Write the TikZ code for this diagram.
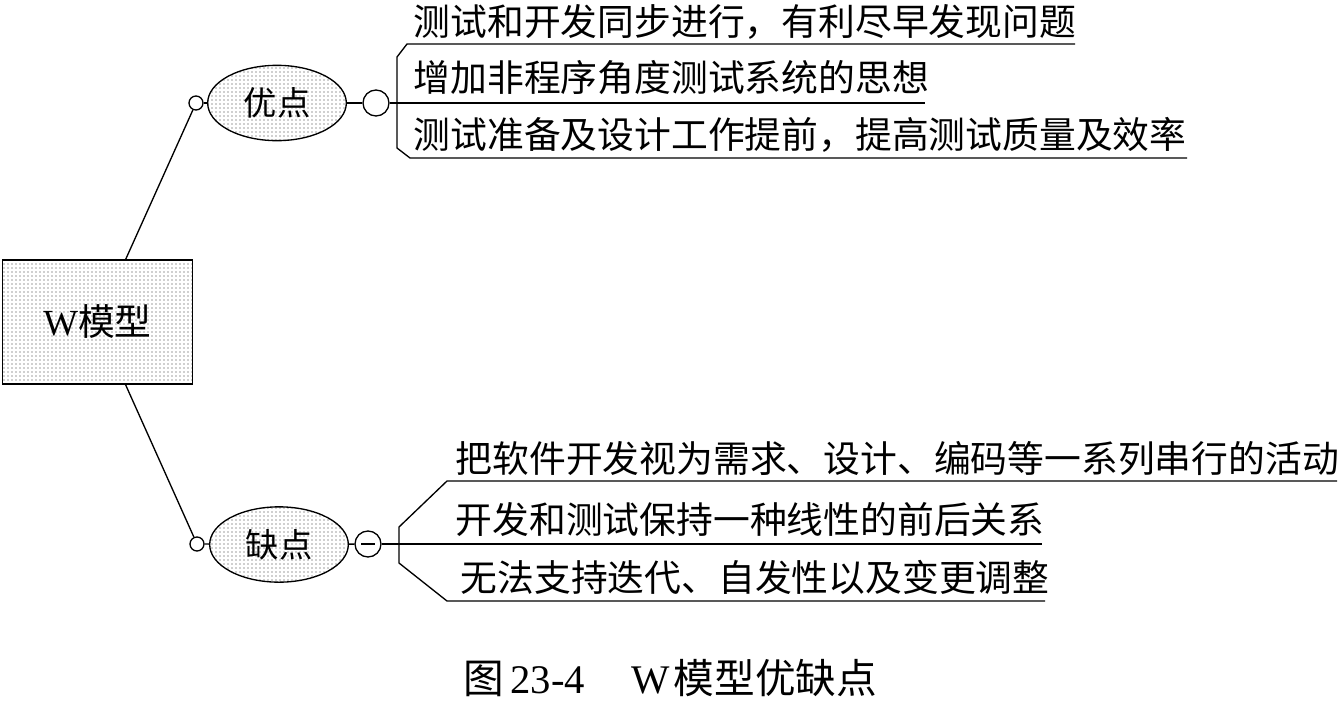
\documentclass[tikz,border=0pt]{standalone}
\usepackage{fontspec}
\usetikzlibrary{shapes.geometric,patterns}
\setmainfont{Liberation Serif}
\newfontfamily\cjk{Noto Sans CJK SC}
\tikzset{
  stipple/.style={draw,line width=1pt,pattern=dots,pattern color=black!80},
  dot/.style={draw,circle,line width=1pt,inner sep=0pt,minimum size=10.5pt,fill=white},
  knob/.style={draw,circle,line width=1pt,inner sep=0pt,minimum size=19.5pt,fill=white},
  oval/.style={stipple,ellipse,inner sep=0pt,minimum width=104pt,minimum height=56.5pt,font=\cjk\fontsize{25}{28}\selectfont},
  item/.style={anchor=west,inner sep=0pt,font=\cjk\fontsize{27.6}{30}\selectfont},
}
\begin{document}
\begin{tikzpicture}[x=0.75pt,y=-0.75pt,line width=1pt]
  \useasboundingbox (0,0) rectangle (1342,704);
  \node (model) at (97.5,322) [stipple,rectangle,inner sep=0pt,minimum width=142.5pt,minimum height=93pt] {\fontsize{27.6}{30}\selectfont W{\cjk 模型}};
  % upper branch
  \node (pros) at (277,103) [oval] {优点};
  \node (prosin) at (196,103) [dot] {};
  \node (prosout) at (376,103) [knob] {};
  \node (pro1) at (413,22) [item] {测试和开发同步进行，有利尽早发现问题};
  \node (pro2) at (413,78) [item] {增加非程序角度测试系统的思想};
  \node (pro3) at (413,135) [item] {测试准备及设计工作提前，提高测试质量及效率};
  \coordinate (protop) at (1075,44);
  \coordinate (promid) at (925,103);
  \coordinate (probot) at (1187,158);
  % lower branch
  \node (cons) at (279,544.5) [oval] {缺点};
  \node (consin) at (197,544) [dot] {};
  \node (consout) at (368,544) [knob] {};
  \node (con1) at (455,458) [item] {把软件开发视为需求、设计、编码等一系列串行的活动};
  \node (con2) at (455,519) [item] {开发和测试保持一种线性的前后关系};
  \node (con3) at (460,577) [item] {无法支持迭代、自发性以及变更调整};
  \coordinate (contop) at (1337,481);
  \coordinate (conmid) at (1042,544);
  \coordinate (conbot) at (1045,601);
  \coordinate (minusl) at (361,544);
  \coordinate (minusr) at (375,544);
  \node (caption) at (463,678) [anchor=west,inner sep=0pt] {\fontsize{30.5}{33}\selectfont{\cjk 图}\hspace{4.5pt}23-4\hspace{35pt}W\hspace{3pt}{\cjk 模型优缺点}};
  \draw (model) to (prosin);
  \draw (model) to (consin);
  \draw (prosin) to (pros);
  \draw (pros) to (prosout);
  \draw (prosout) to (promid);
  \draw (protop) -- (407,44) -- (397,57) -- (397,148) -- (410,158) -- (probot);
  \draw (consin) to (cons);
  \draw (cons) to (consout);
  \draw (consout) to (conmid);
  \draw (minusl) to (minusr);
  \draw (contop) -- (447,481) -- (399,527) -- (399,563) -- (447,601) -- (conbot);
\end{tikzpicture}
\end{document}
